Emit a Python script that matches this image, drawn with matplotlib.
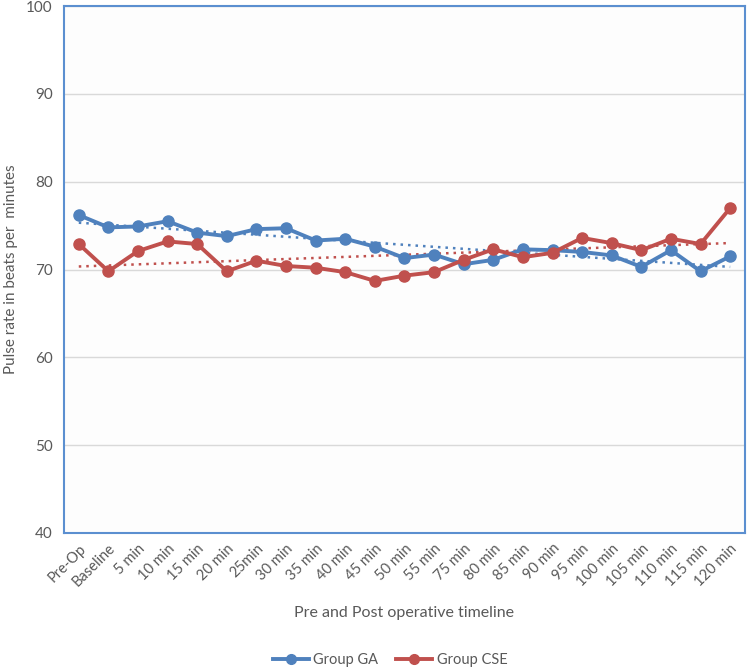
import numpy as np
import matplotlib
matplotlib.use("Agg")
import matplotlib.pyplot as plt
from matplotlib.lines import Line2D

plt.rcParams['font.family'] = ['Lato', 'DejaVu Sans']

categories = ["Pre-Op", "Baseline", "5 min", "10 min", "15 min", "20 min", "25min",
              "30 min", "35 min", "40 min", "45 min", "50 min", "55 min", "75 min",
              "80 min", "85 min", "90 min", "95 min", "100 min", "105 min", "110 min",
              "115 min", "120 min"]
group_ga = [76.2, 74.8, 74.9, 75.5, 74.2, 73.8, 74.6, 74.7, 73.3, 73.5, 72.6, 71.3,
            71.7, 70.6, 71.1, 72.3, 72.2, 72.0, 71.6, 70.3, 72.2, 69.8, 71.5]
group_cse = [72.9, 69.8, 72.1, 73.2, 72.9, 69.8, 71.0, 70.4, 70.2, 69.7, 68.7, 69.3,
             69.7, 71.1, 72.3, 71.4, 71.9, 73.6, 73.0, 72.2, 73.5, 72.9, 77.0]
y_ticks = [40, 50, 60, 70, 80, 90, 100]

blue = "#4F81BD"
red = "#C0504D"
text_c = "#595959"

fig = plt.figure(figsize=(7.5, 6.71), dpi=100)
fig.patch.set_facecolor("white")
ax = fig.add_axes([0.0853, 0.2057, 0.9080, 0.7853])
ax.set_facecolor("#FDFDFD")

x = np.arange(len(categories))
for vals, col, lab in [(group_ga, blue, "Group GA"), (group_cse, red, "Group CSE")]:
    ax.plot(x, vals, color=col, lw=2.8, marker='o', ms=8, label=lab, zorder=3,
            solid_joinstyle='round')
    p = np.polyfit(x, vals, 1)
    ax.plot(x, np.polyval(p, x), color=col, lw=1.8, ls=(0, (1, 2)), zorder=2)

ax.set_xlim(-0.5, len(categories) - 0.5)
ax.set_ylim(40, 100)
ax.set_yticks(y_ticks)
ax.set_xticks(x)
ax.set_xticklabels(categories, rotation=45, ha='right', rotation_mode='anchor')
ax.tick_params(axis='both', length=0, colors=text_c, labelsize=10.5)
ax.tick_params(axis='y', labelsize=11)
ax.tick_params(axis='x', pad=6)
ax.tick_params(axis='y', pad=8)
ax.grid(axis='y', color="#D9D9D9", lw=1)
ax.set_axisbelow(True)
for s in ax.spines.values():
    s.set_color("#5B8FD0")
    s.set_linewidth(1.5)

ax.set_xlabel("Pre and Post operative timeline", fontsize=11.5, color=text_c, labelpad=12)
ax.set_ylabel("Pulse rate in beats per  minutes", fontsize=11, color=text_c, labelpad=6)

handles = [Line2D([], [], color=blue, lw=2.8, marker='o', ms=7),
           Line2D([], [], color=red, lw=2.8, marker='o', ms=7)]
fig.legend(handles, ["Group GA", "Group CSE"], loc='center', bbox_to_anchor=(0.52, 0.016),
           ncol=2, frameon=False, fontsize=10.5, labelcolor=text_c, handlelength=2.5,
           handletextpad=0.3, columnspacing=1.2)

fig.savefig("out.png", dpi=100)
